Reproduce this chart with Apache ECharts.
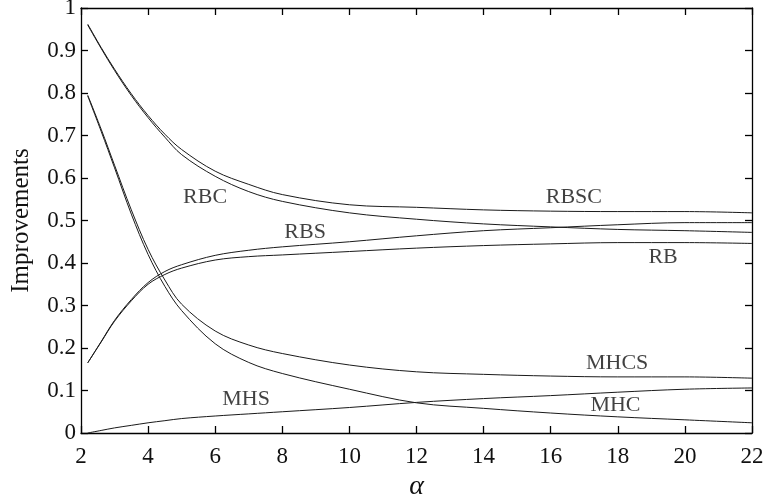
<!DOCTYPE html>
<html>
<head>
<meta charset="utf-8">
<script src="https://cdn.jsdelivr.net/npm/echarts@6/dist/echarts.min.js"></script>
<style>html,body{margin:0;padding:0;background:#fff}#c{width:765px;height:500px}</style>
</head>
<body>
<div id="c"></div>
<script>
var alpha = [2.2, 2.6, 3, 3.5, 4, 4.5, 5, 6, 7, 8, 10, 12, 14, 16, 18, 20, 22];
var RBSC = [0.962, 0.907, 0.856, 0.798, 0.747, 0.703, 0.667, 0.616, 0.585, 0.561, 0.537, 0.531, 0.525, 0.522, 0.521, 0.521, 0.518];
var RBC  = [0.960, 0.905, 0.853, 0.794, 0.742, 0.696, 0.655, 0.604, 0.568, 0.545, 0.518, 0.503, 0.492, 0.485, 0.479, 0.476, 0.472];
var RBS  = [0.165, 0.215, 0.265, 0.314, 0.354, 0.380, 0.396, 0.418, 0.430, 0.438, 0.450, 0.464, 0.476, 0.483, 0.490, 0.495, 0.495];
var RB   = [0.165, 0.214, 0.263, 0.311, 0.350, 0.373, 0.388, 0.407, 0.415, 0.419, 0.427, 0.435, 0.441, 0.445, 0.448, 0.448, 0.446];
var MHCS = [0.795, 0.715, 0.630, 0.525, 0.432, 0.360, 0.303, 0.240, 0.207, 0.187, 0.160, 0.144, 0.138, 0.134, 0.132, 0.132, 0.129];
var MHC  = [0.793, 0.710, 0.624, 0.515, 0.420, 0.345, 0.288, 0.210, 0.166, 0.140, 0.103, 0.071, 0.058, 0.047, 0.038, 0.031, 0.024];
var MHS  = [0.000, 0.006, 0.012, 0.018, 0.024, 0.029, 0.034, 0.040, 0.045, 0.050, 0.060, 0.072, 0.081, 0.088, 0.096, 0.103, 0.106];

var labelNames = ['RBC', 'RBS', 'RBSC', 'RB', 'MHCS', 'MHC', 'MHS'];
var labelX = [5.70, 8.68, 16.69, 19.35, 17.98, 17.93, 6.92];
var labelY = [0.555, 0.473, 0.555, 0.414, 0.165, 0.066, 0.080];

var xTicks = [2, 4, 6, 8, 10, 12, 14, 16, 18, 20, 22];
var yTicks = [0, 0.1, 0.2, 0.3, 0.4, 0.5, 0.6, 0.7, 0.8, 0.9, 1];

var FONT = "'Liberation Serif', 'Times New Roman', serif";
var seriesData = {RBSC: RBSC, RBC: RBC, RBS: RBS, RB: RB, MHCS: MHCS, MHC: MHC, MHS: MHS};

function pairs(ys) { return alpha.map(function (a, i) { return [a, ys[i]]; }); }

var series = Object.keys(seriesData).map(function (k) {
  return {
    name: k, type: 'line', data: pairs(seriesData[k]),
    smooth: 0.35, showSymbol: false, symbol: 'none',
    lineStyle: { color: '#1a1a1a', width: 1 }, silent: true, z: 2
  };
});
series.push({
  type: 'scatter', symbolSize: 0, silent: true, z: 5,
  data: labelNames.map(function (n, i) { return { value: [labelX[i], labelY[i]], name: n }; }),
  label: { show: true, position: 'inside', formatter: '{b}', color: '#111', fontFamily: FONT, fontSize: 22 }
});

var axisCommon = {
  axisLine: { show: true, onZero: false, lineStyle: { color: '#000', width: 1.3 } },
  axisTick: { show: true, inside: true, length: 7, lineStyle: { color: '#000', width: 1.3 } },
  splitLine: { show: false }
};

var chart = echarts.init(document.getElementById('c'), null, { renderer: 'canvas' });
chart.setOption({
  animation: false,
  backgroundColor: '#fff',
  grid: { left: 81, right: 13, top: 8, bottom: 67, containLabel: false, outerBoundsMode: 'none' },
  xAxis: [
    Object.assign({
      type: 'value', min: xTicks[0], max: xTicks[xTicks.length - 1], interval: 2, position: 'bottom',
      name: 'α', nameLocation: 'middle', nameGap: 32,
      nameTextStyle: { fontFamily: FONT, fontStyle: 'italic', fontSize: 28, color: '#111' },
      axisLabel: { color: '#111', fontFamily: FONT, fontSize: 23, margin: 12 }
    }, axisCommon),
    Object.assign({
      type: 'value', min: xTicks[0], max: xTicks[xTicks.length - 1], interval: 2, position: 'top',
      axisLabel: { show: false }
    }, axisCommon)
  ],
  yAxis: [
    Object.assign({
      type: 'value', min: yTicks[0], max: yTicks[yTicks.length - 1], interval: 0.1, position: 'left',
      name: 'Improvements', nameLocation: 'middle', nameGap: 47, nameRotate: 90,
      nameTextStyle: { fontFamily: FONT, fontSize: 25, color: '#111' },
      axisLabel: { color: '#111', fontFamily: FONT, fontSize: 23, margin: 5,
        formatter: function (v) { return String(Math.round(v * 10) / 10); } }
    }, axisCommon),
    Object.assign({
      type: 'value', min: yTicks[0], max: yTicks[yTicks.length - 1], interval: 0.1, position: 'right',
      axisLabel: { show: false }
    }, axisCommon)
  ],
  series: series
});
</script>
</body>
</html>
